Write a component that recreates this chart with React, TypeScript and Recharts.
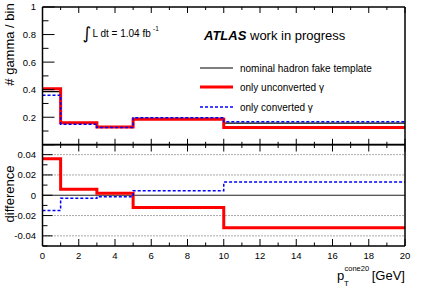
import { LineChart, Line, XAxis, YAxis, ReferenceLine } from 'recharts';

// bin edges of p_T^cone20 [GeV], one value per bin
const binEdges = [0, 1, 3, 5, 10, 20];
const nominal = [0.386, 0.155, 0.128, 0.192, 0.157];
const unconverted = [0.406, 0.16, 0.13, 0.185, 0.126];
const converted = [0.36, 0.15, 0.125, 0.196, 0.167];
const diffUnconverted = [0.036, 0.006, 0.002, -0.012, -0.032];
const diffConverted = [-0.015, -0.003, -0.0015, 0.0045, 0.013];

const xTicks = [0, 1, 2, 3, 4, 5, 6, 7, 8, 9, 10, 11, 12, 13, 14, 15, 16, 17, 18, 19, 20];
const yTicksTop = [0, 0.1, 0.2, 0.3, 0.4, 0.5, 0.6, 0.7, 0.8, 0.9, 1];
const yTicksBottom = [-0.05, -0.04, -0.03, -0.02, -0.01, 0, 0.01, 0.02, 0.03, 0.04, 0.05];
const gridValues = [-0.04, -0.02, 0.02, 0.04];

const legendItems = [
  { name: 'nominal hadron fake template', color: '#000000', width: 1.2, dash: undefined },
  { name: 'only unconverted γ', color: '#ff0000', width: 3, dash: undefined },
  { name: 'only converted γ', color: '#0000ff', width: 1.5, dash: '3 2' },
];

const last = (arr: number[], i: number) => arr[Math.min(i, arr.length - 1)];

const topData = binEdges.map((x, i) => ({
  x,
  nominal: last(nominal, i),
  unconverted: last(unconverted, i),
  converted: last(converted, i),
}));

const bottomData = binEdges.map((x, i) => ({
  x,
  unconverted: last(diffUnconverted, i),
  converted: last(diffConverted, i),
}));

const FONT = '"Liberation Sans", Arial, Helvetica, sans-serif';
const W = 427;
const H = 290;
// axes get 1px of room each; margins are set so the frame lands where the reference has it
const AX = 1;
const M_LEFT = 42.5 - AX;
const M_RIGHT = 22 - AX;

// ticks drawn inward (ROOT style), labels outside
const xTick = (side: 'top' | 'bottom', maj: number, min: number, labels: boolean) => (p: any) => {
  const v = p.payload.value;
  const major = v % 2 === 0;
  const len = major ? maj : min;
  const dir = side === 'bottom' ? -1 : 1;
  return (
    <g>
      <line x1={p.x} y1={p.y} x2={p.x} y2={p.y + dir * len} stroke="#000" strokeWidth={1} />
      {labels && major && (
        <text x={p.x} y={p.y + 13} textAnchor="middle" fontSize={9.5} fontFamily={FONT} fill="#000">
          {v}
        </text>
      )}
    </g>
  );
};

const yTick = (side: 'left' | 'right', isMajor: (v: number) => boolean, maj: number, min: number, showLabel: (v: number) => boolean) => (p: any) => {
  const v = p.payload.value;
  const major = isMajor(v);
  const len = major ? maj : min;
  const dir = side === 'left' ? 1 : -1;
  return (
    <g>
      <line x1={p.x} y1={p.y} x2={p.x + dir * len} y2={p.y} stroke="#000" strokeWidth={1} />
      {side === 'left' && major && showLabel(v) && (
        <text x={p.x - 6.5} y={p.y + 3.4} textAnchor="end" fontSize={9.5} fontFamily={FONT} fill="#000">
          {v}
        </text>
      )}
    </g>
  );
};

const majorTop = (v: number) => Math.round(v * 10) % 2 === 0;
const majorBottom = (v: number) => Math.round(v * 100) % 2 === 0;

const axisLine = { stroke: '#000', strokeWidth: 1.5 };

function TopPanel() {
  return (
    <LineChart width={W} height={146} data={topData} margin={{ top: 7 - AX, right: M_RIGHT, bottom: 1.2 - AX, left: M_LEFT }}>
      <XAxis xAxisId="b" dataKey="x" type="number" domain={[0, 20]} ticks={xTicks} interval={0} height={AX}
        tickSize={0} tickMargin={0} tickLine={false} axisLine={axisLine} tick={xTick('bottom', 6, 3, false)} />
      <XAxis xAxisId="t" orientation="top" dataKey="x" type="number" domain={[0, 20]} ticks={xTicks} interval={0} height={AX}
        tickSize={0} tickMargin={0} tickLine={false} axisLine={axisLine} tick={xTick('top', 6, 3, false)} />
      <YAxis yAxisId="l" type="number" domain={[0, 1]} ticks={yTicksTop} interval={0} width={AX}
        tickSize={0} tickMargin={0} tickLine={false} axisLine={axisLine} tick={yTick('left', majorTop, 12, 6, (v) => v > 0)} />
      <YAxis yAxisId="r" orientation="right" type="number" domain={[0, 1]} ticks={yTicksTop} interval={0} width={AX}
        tickSize={0} tickMargin={0} tickLine={false} axisLine={axisLine} tick={yTick('right', majorTop, 12, 6, () => false)} />
      <Line xAxisId="b" yAxisId="l" type="stepAfter" dataKey="nominal" stroke="#000" strokeWidth={1.2} dot={false} isAnimationActive={false} />
      <Line xAxisId="b" yAxisId="l" type="stepAfter" dataKey="unconverted" stroke="#ff0000" strokeWidth={3} dot={false} isAnimationActive={false} />
      <Line xAxisId="b" yAxisId="l" type="stepAfter" dataKey="converted" stroke="#0000ff" strokeWidth={1.5} strokeDasharray="3 2" dot={false} isAnimationActive={false} />
    </LineChart>
  );
}

function BottomPanel() {
  return (
    <LineChart width={W} height={H} data={bottomData} margin={{ top: 144.5 - AX, right: M_RIGHT, bottom: 44 - AX, left: M_LEFT }}>
      <XAxis xAxisId="b" dataKey="x" type="number" domain={[0, 20]} ticks={xTicks} interval={0} height={AX}
        tickSize={0} tickMargin={0} tickLine={false} axisLine={axisLine} tick={xTick('bottom', 7, 3.5, true)} />
      <XAxis xAxisId="t" orientation="top" dataKey="x" type="number" domain={[0, 20]} ticks={xTicks} interval={0} height={AX}
        tickSize={0} tickMargin={0} tickLine={false} axisLine={axisLine} tick={xTick('top', 7, 3.5, false)} />
      <YAxis yAxisId="l" type="number" domain={[-0.05, 0.05]} ticks={yTicksBottom} interval={0} width={AX}
        tickSize={0} tickMargin={0} tickLine={false} axisLine={axisLine} tick={yTick('left', majorBottom, 10, 5, () => true)} />
      <YAxis yAxisId="r" orientation="right" type="number" domain={[-0.05, 0.05]} ticks={yTicksBottom} interval={0} width={AX}
        tickSize={0} tickMargin={0} tickLine={false} axisLine={axisLine} tick={yTick('right', majorBottom, 10, 5, () => false)} />
      {gridValues.map((v) => (
        <ReferenceLine key={v} xAxisId="b" yAxisId="l" y={v} stroke="#555" strokeWidth={1} strokeDasharray="1 2" />
      ))}
      <ReferenceLine xAxisId="b" yAxisId="l" y={0} stroke="#222" strokeWidth={1.2} />
      <Line xAxisId="b" yAxisId="l" type="stepAfter" dataKey="unconverted" stroke="#ff0000" strokeWidth={3} dot={false} isAnimationActive={false} />
      <Line xAxisId="b" yAxisId="l" type="stepAfter" dataKey="converted" stroke="#0000ff" strokeWidth={1.5} strokeDasharray="3 2" dot={false} isAnimationActive={false} />
    </LineChart>
  );
}

function Annotations() {
  return (
    <svg width={W} height={H} style={{ position: 'absolute', left: 0, top: 0, pointerEvents: 'none' }} fontFamily={FONT}>
      <text transform="translate(13.5,44.5) rotate(-90)" textAnchor="middle" fontSize={13}>
        # gamma / bin
      </text>
      <text transform="translate(13.5,194) rotate(-90)" textAnchor="middle" fontSize={13}>
        difference
      </text>

      <text x={82.5} y={38.5} fontSize={17} fontFamily='"DejaVu Sans", sans-serif'>∫</text>
      <text x={92.5} y={37.3} fontSize={10}>L dt = 1.04 fb</text>
      <text x={153} y={31} fontSize={6.5}>-1</text>

      <text x={204} y={40} fontSize={13}>
        <tspan fontWeight="bold" fontStyle="italic">ATLAS</tspan>
        <tspan> work in progress</tspan>
      </text>

      {legendItems.map((it, i) => {
        const y = [68, 87, 107][i];
        return (
          <g key={it.name}>
            <line x1={200} x2={233} y1={y} y2={y} stroke={it.color} strokeWidth={it.width} strokeDasharray={it.dash} />
            <text x={240} y={y + 3.5} fontSize={10}>{it.name}</text>
          </g>
        );
      })}

      <text x={337} y={280} fontSize={13}>p</text>
      <text x={344} y={286} fontSize={8}>T</text>
      <text x={344.5} y={271} fontSize={7.5}>cone20</text>
      <text x={405} y={280} fontSize={13} textAnchor="end">[GeV]</text>
    </svg>
  );
}

export default function App() {
  return (
    <div style={{ position: 'absolute', left: 0, top: 0, width: W, height: H, background: '#fff' }}>
      <div style={{ position: 'absolute', left: 0, top: 0 }}>
        <TopPanel />
      </div>
      <div style={{ position: 'absolute', left: 0, top: 0 }}>
        <BottomPanel />
      </div>
      <Annotations />
    </div>
  );
}
